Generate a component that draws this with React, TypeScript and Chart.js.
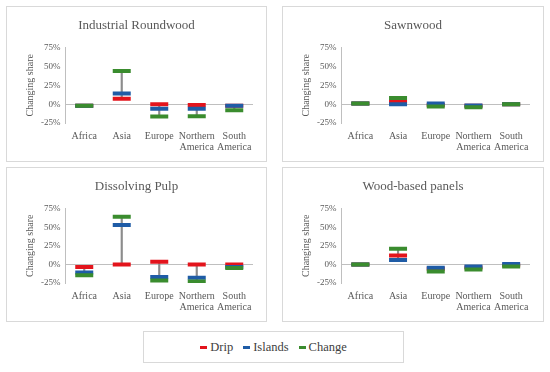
import React, { useEffect, useRef } from 'react';
import { Chart, registerables } from 'chart.js';

Chart.register(...registerables);

const categories: (string | string[])[] = ['Africa', 'Asia', 'Europe', ['Northern', 'America'], ['South', 'America']];
const yTickValues = [-25, 0, 25, 50, 75];
const seriesNames = ['Drip', 'Islands', 'Change'];
const seriesColors = ['#e3141c', '#1f5ca6', '#3a8c2e'];

const roundwoodDrip = [-2, 7, 0, -1, -2];
const roundwoodIslands = [-2, 14, -6, -6, -2];
const roundwoodChange = [-2, 44, -16.5, -16, -8];

const sawnwoodDrip = [1, 3.5, -1, -2, 0];
const sawnwoodIslands = [1, 0, 1, -1.8, 0];
const sawnwoodChange = [1, 8, -3, -4, 0];

const pulpDrip = [-3.5, 0, 3.6, 0, 0];
const pulpIslands = [-11, 53, -17, -18, -3.5];
const pulpChange = [-14.5, 64, -21.7, -23, -5];

const panelsDrip = [0, 12, -6, -4, -1];
const panelsIslands = [0, 6, -4.5, -2.7, 0.4];
const panelsChange = [0, 21, -9.5, -6.7, -2.7];

const FONT = "'Liberation Serif', 'Times New Roman', serif";
const TEXT = '#595959';
const AXIS = '#bfbfbf';

type PanelProps = {
  title: string;
  drip: number[];
  islands: number[];
  change: number[];
  left: number;
  top: number;
  width: number;
  height: number;
};

function Panel({ title, drip, islands, change, left, top, width, height }: PanelProps) {
  const ref = useRef<HTMLCanvasElement | null>(null);
  useEffect(() => {
    if (!ref.current) return;
    const series = [drip, islands, change];
    const ranges = drip.map((_, i) => {
      const vals = series.map((s) => s[i]);
      return [Math.min(...vals), Math.max(...vals)];
    });
    const pointDs = (idx: number, order: number) => ({
      type: 'line' as const,
      label: seriesNames[idx],
      data: series[idx],
      order,
      showLine: false,
      pointStyle: 'line' as const,
      pointRadius: 9,
      pointHoverRadius: 9,
      pointBorderWidth: 4,
      pointHoverBorderWidth: 4,
      borderColor: seriesColors[idx],
      backgroundColor: seriesColors[idx],
      pointBorderColor: seriesColors[idx],
    });
    const chart = new Chart(ref.current, {
      type: 'line',
      data: {
        labels: categories as any,
        datasets: [
          pointDs(2, 1),
          pointDs(1, 2),
          pointDs(0, 3),
          {
            type: 'bar' as const,
            label: 'range',
            data: ranges as any,
            order: 4,
            backgroundColor: '#8c8c8c',
            borderWidth: 0,
            barThickness: 1.5,
          } as any,
        ],
      },
      options: {
        animation: false,
        responsive: false,
        maintainAspectRatio: false,
        events: [],
        layout: { padding: { left: 13, right: 13, top: 0, bottom: 0 } },
        plugins: {
          legend: { display: false },
          tooltip: { enabled: false },
          title: {
            display: true,
            text: title,
            color: TEXT,
            font: { family: FONT, size: 13, weight: 'normal' },
            padding: { top: 11, bottom: 14 },
          },
        },
        scales: {
          x: {
            offset: true,
            grid: { display: false, drawTicks: false },
            border: { display: false },
            ticks: {
              color: TEXT,
              font: { family: FONT, size: 10, lineHeight: 1.1 },
              padding: 8,
              maxRotation: 0,
              autoSkip: false,
            },
          },
          y: {
            min: yTickValues[0],
            max: yTickValues[yTickValues.length - 1],
            ticks: {
              stepSize: yTickValues[1] - yTickValues[0],
              callback: (v: any) => v + '%',
              color: TEXT,
              font: { family: FONT, size: 9 },
              padding: 5,
            },
            grid: {
              color: (ctx: any) => (ctx.tick && ctx.tick.value === 0 ? AXIS : 'rgba(0,0,0,0)'),
              drawTicks: false,
              lineWidth: 1,
            },
            border: { display: true, color: AXIS },
            title: {
              display: true,
              text: 'Changing share',
              color: TEXT,
              font: { family: FONT, size: 10 },
              padding: { top: 4, bottom: 0 },
            },
          },
        },
      } as any,
    });
    return () => chart.destroy();
  }, [title, drip, islands, change]);

  return (
    <div
      style={{
        position: 'absolute',
        left,
        top,
        width,
        height,
        border: '1px solid #d9d9d9',
        boxSizing: 'border-box',
        background: '#fff',
      }}
    >
      <canvas ref={ref} width={width - 2} height={height - 2} style={{ display: 'block', width: width - 2, height: height - 2 }} />
    </div>
  );
}

export default function App() {
  return (
    <div style={{ position: 'absolute', left: 0, top: 0, width: 550, height: 372, background: '#fff', overflow: 'hidden' }}>
      <Panel title="Industrial Roundwood" drip={roundwoodDrip} islands={roundwoodIslands} change={roundwoodChange} left={6} top={6} width={261} height={156} />
      <Panel title="Sawnwood" drip={sawnwoodDrip} islands={sawnwoodIslands} change={sawnwoodChange} left={282} top={6} width={262} height={156} />
      <Panel title="Dissolving Pulp" drip={pulpDrip} islands={pulpIslands} change={pulpChange} left={6} top={167} width={261} height={155} />
      <Panel title="Wood-based panels" drip={panelsDrip} islands={panelsIslands} change={panelsChange} left={282} top={167} width={262} height={155} />
      <div
        style={{
          position: 'absolute',
          left: 143,
          top: 331,
          width: 261,
          height: 32,
          border: '1px solid #d9d9d9',
          boxSizing: 'border-box',
          display: 'flex',
          alignItems: 'center',
          justifyContent: 'center',
          fontFamily: FONT,
          fontSize: 12.5,
          color: '#404040',
        }}
      >
        {seriesNames.map((name, i) => (
          <span key={name} style={{ display: 'inline-flex', alignItems: 'center', marginLeft: i === 0 ? 0 : 10 }}>
            <span style={{ display: 'inline-block', width: 7, height: 3, background: seriesColors[i], marginRight: 3 }} />
            {name}
          </span>
        ))}
      </div>
    </div>
  );
}
